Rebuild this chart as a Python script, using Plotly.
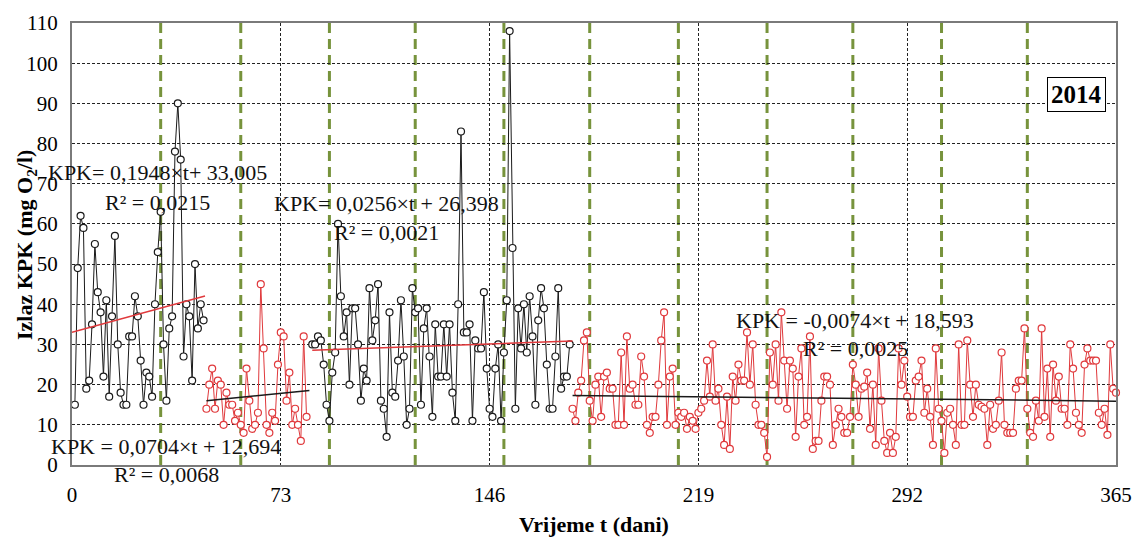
import numpy as np
import plotly.graph_objects as go

# ---- data (KPK, mg O2/l) ----
seg1_start, seg2_start, seg3_start, seg4_start = 1, 47, 84, 175
seg1_vals = [15, 49, 62, 59, 19, 21, 35, 55, 43, 38, 22, 41, 17, 37, 57, 30, 18, 15, 15, 32,
             32, 42, 37, 26, 15, 23, 22, 17, 40, 53, 63, 30, 16, 34, 37, 78, 90, 76, 27, 40,
             37, 21, 50, 34, 40, 36]
seg2_vals = [14, 20, 24, 14, 21, 20, 10, 18, 15, 15, 11, 13, 10, 8, 24, 16, 9, 10, 13, 45,
             29, 10, 8, 13, 11, 25, 33, 32, 16, 23, 10, 14, 10, 6, 32, 12]
seg3_vals = [30, 30, 32, 31, 25, 15, 11, 23, 28, 60, 42, 32, 38, 20, 39, 39, 30, 16, 24, 21,
             44, 31, 36, 45, 16, 14, 7, 38, 18, 17, 26, 41, 27, 10, 14, 44, 38, 39, 15, 34,
             39, 27, 12, 35, 22, 22, 35, 22, 35, 18, 11, 40, 83, 33, 33, 35, 11, 31, 29, 29,
             43, 24, 14, 12, 24, 30, 11, 28, 41, 108, 54, 14, 39, 29, 40, 28, 42, 32, 15, 36,
             44, 39, 25, 14, 14, 27, 44, 19, 22, 22, 30]
seg4_vals = [14, 11, 18, 21, 31, 33, 16, 11, 20, 22, 12, 22, 23, 19, 19, 10, 10, 28, 10, 32,
             19, 20, 15, 15, 27, 22, 10, 8, 12, 12, 20, 31, 38, 10, 22, 24, 10, 13, 12, 13,
             9, 12, 11, 9, 13, 14, 16, 26, 17, 30, 16, 19, 10, 5, 17, 4, 22, 16, 25, 21,
             21, 33, 20, 30, 15, 10, 10, 8, 2, 28, 20, 30, 16, 38, 26, 14, 26, 24, 7, 22,
             29, 10, 12, 32, 4, 6, 6, 16, 22, 22, 20, 5, 10, 14, 12, 8, 8, 12, 25, 20,
             12, 19, 19.5, 23, 9, 20, 5, 29, 16, 6, 3, 8, 3, 7, 29, 20, 26, 17, 12, 12,
             21, 22, 26, 13, 19, 12, 5, 29, 14, 11, 3, 13, 14, 10, 5, 30, 10, 10, 31, 20,
             12, 20, 15, 14.5, 14, 5, 15, 9, 10, 16, 28, 10, 8, 8, 8, 19, 21, 21, 34, 14,
             8, 7, 16, 11, 34, 12, 24, 7, 25, 16, 22, 14, 14, 10, 30, 24, 13, 10, 8, 25,
             29, 26, 26, 26, 13, 10, 14, 7.5, 30, 19, 18]

# trend lines: slope, intercept, t range
trends = [
    (0.1948, 33.005, 0, 46.5, "red"),
    (0.0704, 12.694, 47, 83, "black"),
    (0.0256, 26.398, 84, 175, "red"),
    (-0.0074, 18.593, 175, 365, "black"),
]
month_bounds = [31, 59, 90, 120, 151, 181, 212, 243, 273, 304, 334]
x_ticks = [0, 73, 146, 219, 292, 365]
y_ticks = list(range(0, 111, 10))

RED = "#E0393C"
BLK = "#1a1a1a"
GREEN = "#77933C"
FONT = "Liberation Serif"

# plot area in screen pixels
L, R, T, B = 72, 1116, 23, 465
W, H = 1135, 540
def px(x):
    return (x - L) / (R - L)
def py(y):
    return (B - y) / (B - T)

fig = go.Figure()

segments = [(seg1_start, seg1_vals, BLK), (seg2_start, seg2_vals, RED),
            (seg3_start, seg3_vals, BLK), (seg4_start, seg4_vals, RED)]
for start, vals, col in segments:
    t = np.arange(start, start + len(vals))
    fig.add_trace(go.Scatter(
        x=t, y=vals, mode="lines+markers",
        line=dict(color=col, width=1),
        marker=dict(symbol="circle", size=7, color="white", line=dict(color=col, width=1.2)),
        showlegend=False, cliponaxis=False))

for a, b, t0, t1, c in trends:
    tt = np.array([t0, t1])
    fig.add_trace(go.Scatter(
        x=tt, y=a * tt + b, mode="lines",
        line=dict(color=RED if c == "red" else BLK, width=1.5),
        showlegend=False, hoverinfo="skip"))

for m in month_bounds:
    fig.add_shape(type="line", x0=m, x1=m, y0=0, y1=110, xref="x", yref="y",
                  line=dict(color=GREEN, width=3, dash="10px,6px"), layer="below")

ann_font = dict(family=FONT, size=22, color="#111")
texts = [
    ("KPK= 0,1948×t+ 33,005", 157, 172),
    ("R² = 0,0215", 157, 202),
    ("KPK= 0,0256×t + 26,398", 386, 203),
    ("R² = 0,0021", 386, 232),
    ("KPK = 0,0704×t + 12,694", 166, 446),
    ("R² = 0,0068", 166, 475),
    ("KPK = -0,0074×t + 18,593", 855, 320),
    ("R² = 0,0025", 855, 348),
]
for txt, x, y in texts:
    fig.add_annotation(text=txt, x=px(x), y=py(y), xref="paper", yref="paper",
                       showarrow=False, font=ann_font, xanchor="center", yanchor="middle")

fig.add_annotation(text="<b>2014</b>", x=px(1076), y=py(95), xref="paper", yref="paper",
                   showarrow=False, font=dict(family=FONT, size=25, color="black"),
                   bordercolor="black", borderwidth=1, borderpad=3, bgcolor="white",
                   xanchor="center", yanchor="middle")

fig.add_annotation(text="<b>Izlaz KPK (mg O<sub>2</sub>/l)</b>", x=px(26), y=py(245),
                   xref="paper", yref="paper", showarrow=False, textangle=-90,
                   xanchor="center", yanchor="middle",
                   font=dict(family=FONT, size=22, color="black"))
fig.add_annotation(text="<b>Vrijeme t (dani)</b>", x=px(594), y=py(524),
                   xref="paper", yref="paper", showarrow=False,
                   xanchor="center", yanchor="middle",
                   font=dict(family=FONT, size=22, color="black"))

fig.update_layout(
    width=W, height=H,
    margin=dict(l=L, r=W - R, t=T, b=H - B, autoexpand=False),
    paper_bgcolor="white", plot_bgcolor="white",
    font=dict(family=FONT, size=21, color="black"),
    xaxis=dict(range=[0, 365], tickvals=x_ticks, showgrid=True, gridcolor="#222",
               griddash="3px,2px", gridwidth=1, zeroline=False, showline=True, mirror=True,
               linecolor="#7a7a7a", linewidth=2, ticks="outside", ticklen=10,
               tickcolor="rgba(0,0,0,0)", tickfont=dict(family=FONT, size=21),
               automargin=False),
    yaxis=dict(range=[0, 110], tickvals=y_ticks, showgrid=True, gridcolor="#222",
               griddash="3px,2px", gridwidth=1, zeroline=False, showline=True, mirror=True,
               linecolor="#7a7a7a", linewidth=2, ticks="outside", ticklen=8,
               tickcolor="rgba(0,0,0,0)", tickfont=dict(family=FONT, size=21),
               automargin=False),
)

fig.write_html("out.html", config={"displayModeBar": False},
               post_script="document.body.style.margin='0px';document.body.style.overflow='hidden';")
